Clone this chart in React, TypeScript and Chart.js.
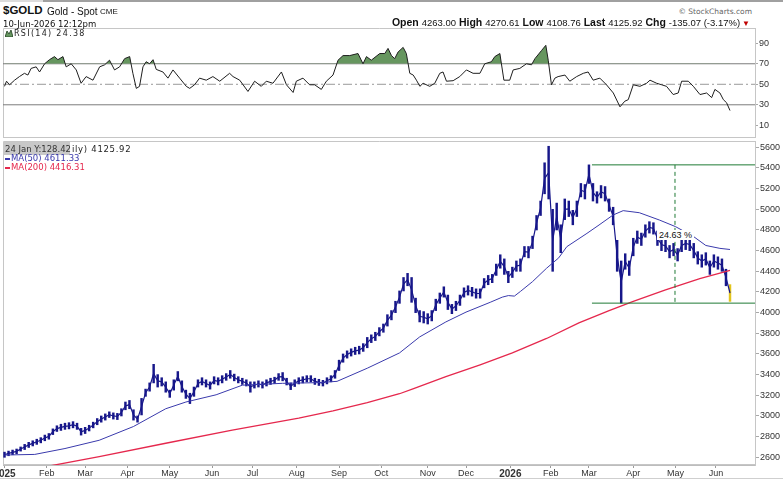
import React, { useEffect, useRef } from "react";
import { Chart, registerables } from "chart.js";

Chart.register(...registerables);

// ---------------- data ----------------
// x values are trading-day indices counted from 2 Jan 2025
const monthTickDays = [0, 21, 40, 61, 82, 103, 123, 145, 166, 187, 210, 229, 251, 271, 290, 312, 333, 353];
const monthTickLabels = ["2025", "Feb", "Mar", "Apr", "May", "Jun", "Jul", "Aug", "Sep", "Oct", "Nov", "Dec", "2026", "Feb", "Mar", "Apr", "May", "Jun"];
const yearTickLabels = ["2025", "2026"];

const priceTicks = [2600, 2800, 3000, 3200, 3400, 3600, 3800, 4000, 4200, 4400, 4600, 4800, 5000, 5200, 5400, 5600];
const rsiTicks = [10, 30, 50, 70, 90];
const rsiLevels = [70, 50, 30];

// one bar every 2 trading days: [low, high]
const barStepDays = 2;
const priceRanges: [number, number][] = [
  [2600, 2650], [2615, 2660], [2625, 2670], [2635, 2680], [2660, 2700], [2675, 2725], [2695, 2745], [2710, 2760],
  [2725, 2775], [2740, 2790], [2760, 2815], [2775, 2830], [2820, 2875], [2850, 2905], [2860, 2920], [2870, 2930],
  [2875, 2935], [2885, 2945], [2870, 2930], [2815, 2880], [2830, 2890], [2855, 2910], [2885, 2940], [2915, 2975],
  [2940, 3000], [2960, 3020], [2985, 3040], [2970, 3030], [2965, 3025], [3000, 3070], [3060, 3135], [3070, 3150],
  [2960, 3060], [2940, 3000], [3010, 3170], [3190, 3260], [3240, 3320], [3320, 3500], [3280, 3400], [3290, 3370],
  [3230, 3330], [3180, 3250], [3250, 3350], [3340, 3430], [3230, 3340], [3170, 3250], [3120, 3220], [3190, 3280],
  [3280, 3350], [3300, 3370], [3280, 3350], [3260, 3330], [3310, 3380], [3300, 3370], [3320, 3390], [3345, 3410],
  [3365, 3440], [3340, 3405], [3320, 3380], [3305, 3365], [3290, 3350], [3230, 3330], [3270, 3330], [3280, 3340],
  [3270, 3330], [3290, 3350], [3305, 3365], [3315, 3375], [3345, 3410], [3340, 3420], [3300, 3365], [3255, 3320],
  [3285, 3350], [3310, 3370], [3320, 3380], [3330, 3390], [3330, 3390], [3305, 3365], [3295, 3355], [3290, 3345],
  [3310, 3370], [3330, 3390], [3365, 3440], [3440, 3540], [3520, 3600], [3560, 3630], [3580, 3650], [3595, 3665],
  [3600, 3675], [3625, 3700], [3660, 3760], [3710, 3785], [3730, 3810], [3775, 3855], [3810, 3890], [3870, 3980],
  [3930, 4020], [4000, 4110], [4090, 4210], [4210, 4340], [4260, 4380], [4100, 4340], [4000, 4140], [3910, 4020],
  [3900, 4010], [3890, 3990], [3920, 4020], [4020, 4130], [4090, 4190], [4150, 4250], [4030, 4170], [3990, 4080],
  [4020, 4110], [4070, 4170], [4150, 4240], [4170, 4260], [4160, 4245], [4140, 4230], [4140, 4230], [4240, 4330],
  [4270, 4360], [4290, 4370], [4360, 4470], [4430, 4560], [4370, 4520], [4290, 4400], [4340, 4440], [4400, 4500],
  [4400, 4520], [4540, 4640], [4530, 4640], [4620, 4740], [4800, 4940], [4940, 5080], [5150, 5450], [5100, 5610],
  [4400, 5000], [4800, 5060], [4580, 4850], [4900, 5100], [4930, 5080], [4850, 4990], [4930, 5080], [5120, 5250],
  [5100, 5240], [5250, 5430], [5080, 5250], [5060, 5170], [5110, 5230], [5080, 5220], [4980, 5100], [4850, 5020],
  [4400, 4700], [4092, 4500], [4420, 4570], [4360, 4500], [4550, 4720], [4670, 4790], [4650, 4770], [4730, 4850],
  [4770, 4880], [4760, 4870], [4650, 4790], [4600, 4720], [4590, 4700], [4530, 4650], [4550, 4670], [4500, 4620],
  [4590, 4710], [4610, 4730], [4600, 4720], [4530, 4670], [4470, 4590], [4440, 4560], [4460, 4580], [4370, 4500],
  [4440, 4560], [4420, 4540], [4400, 4520], [4260, 4420], [4109, 4271],
];

// [trading day, value]
const ma50Points: [number, number][] = [
  [0, 2622], [15, 2628], [30, 2685], [47, 2765], [64, 2898], [80, 3070], [90, 3135], [105, 3205], [118, 3298],
  [138, 3316], [155, 3322], [165, 3335], [180, 3462], [196, 3610], [206, 3765], [219, 3910], [229, 4005],
  [241, 4100], [247, 4150], [250, 4165], [253, 4160], [256, 4205], [262, 4300], [269, 4430], [275, 4530],
  [279, 4638], [289, 4767], [295, 4848], [302, 4945], [307, 4987], [315, 4967], [325, 4896], [333, 4832],
  [342, 4735], [348, 4650], [355, 4622], [360, 4611],
];
const ma200Points: [number, number][] = [
  [22, 2515], [47, 2606], [80, 2736], [113, 2864], [146, 2980], [163, 3050], [180, 3130], [196, 3215],
  [203, 3265], [219, 3380], [236, 3495], [252, 3610], [269, 3750], [285, 3900], [300, 4020], [312, 4110],
  [328, 4220], [345, 4330], [360, 4410],
];

const rsiPoints: [number, number][] = [
  [0, 48], [1, 53], [2.5, 49.5], [5, 54], [7.4, 57.5], [9.9, 60.7], [11.6, 59], [13.2, 65.5], [15.7, 67], [17.4, 62],
  [19.9, 70], [22.3, 74], [24.8, 77], [26.5, 74], [29, 77], [30.6, 67], [33.1, 70], [35.6, 64], [38, 51], [40.5, 57.5],
  [43.9, 54], [47.2, 67], [49.7, 69], [52.1, 73.5], [54.6, 64], [57.1, 67], [59.6, 75], [62.1, 77], [63.7, 60.7],
  [65.4, 46], [67, 48], [68.7, 67], [70.3, 72], [72, 70], [73.7, 74], [75.3, 64.5], [78.6, 62], [81.1, 56], [83.6, 64],
  [86.9, 56], [90.2, 48], [91.9, 46], [94.3, 49.5], [96.8, 56], [100.1, 54], [103.4, 57.5], [106.8, 53], [111.7, 60.7],
  [113.4, 57.5], [116.7, 54], [120.8, 43], [124.1, 53], [127.4, 48], [129.9, 53], [133.2, 51], [137.4, 62], [139.9, 49.5],
  [143.2, 42], [144.8, 53], [148.1, 56], [151.4, 49.5], [153.9, 49.5], [157.2, 45], [159.7, 53], [163, 59], [165.5, 73.5],
  [168, 78], [171.3, 78], [175.4, 80], [177.9, 70], [179.6, 77], [182, 73.5], [186.2, 80], [188.7, 80], [190.3, 85],
  [192, 78], [193.6, 75], [195.3, 81.5], [197.8, 86], [199.4, 80], [201.1, 60.7], [202.8, 59], [204.4, 54], [206.1, 48],
  [207.7, 51], [211, 48], [213.5, 51], [216, 60.7], [217.6, 62], [219.3, 53], [222.6, 53.5], [225.9, 57.5], [229.2, 64],
  [232.5, 60.7], [235.9, 60.7], [238.3, 70], [241.6, 72], [243.3, 77], [245.8, 80], [247.8, 54], [250.7, 54], [252.4, 64],
  [255.7, 65.5], [259, 70], [261.5, 69], [263.2, 75], [266.5, 83], [268.6, 88], [269.8, 73.5], [271.4, 49.5], [273.1, 56],
  [274.7, 57.5], [278.1, 59], [280.5, 53], [283.9, 57.5], [287.2, 60.7], [289.6, 62], [292.1, 54], [295.4, 56],
  [298.7, 49.5], [302.1, 41.5], [305.4, 28], [307.8, 33.5], [309.5, 35], [312, 49.5], [315.3, 48], [318.6, 51],
  [320.3, 54], [323.6, 51], [326.1, 49.5], [328.5, 48], [331.8, 40], [334.3, 41.5], [336, 53], [339.3, 53], [341.8, 48],
  [345.1, 40], [348.4, 41.5], [350.9, 37], [352.5, 45], [355, 41.5], [356.7, 35], [358.3, 32], [360, 24.38],
];

// drawn measurement (peak -> low)
const dropStartDay = 291.5;
const dropMeasureDay = 332.7;
const dropHigh = 5430;
const dropLow = 4092;
const dropLabel = "24.63 %";

const headerStats: [string, string][] = [
  ["Open", "4263.00"], ["High", "4270.61"], ["Low", "4108.76"], ["Last", "4125.92"], ["Chg", "-135.07 (-3.17%)"],
];

// ---------------- chart settings ----------------
const xMin = -0.75;
const xMax = 372.4;
const green = "#1f7a35";
const navy = "#17178a";
const sans = '"Liberation Sans", Arial, sans-serif';
const verd = '"DejaVu Sans", Verdana, sans-serif';

const panelFrame = {
  id: "panelFrame",
  beforeDatasetsDraw(chart: any) {
    const { ctx, chartArea: a } = chart;
    ctx.save();
    ctx.strokeStyle = "#c6c6c6";
    ctx.lineWidth = 1;
    ctx.beginPath();
    ctx.moveTo(a.left + 0.5, a.bottom);
    ctx.lineTo(a.left + 0.5, a.top + 0.5);
    ctx.lineTo(a.right, a.top + 0.5);
    ctx.moveTo(a.left, a.bottom - 0.5);
    ctx.lineTo(a.right, a.bottom - 0.5);
    ctx.stroke();
    ctx.restore();
  },
};

const toXY = (pts: [number, number][]) => pts.map(([x, y]) => ({ x, y }));

export default function App() {
  const rsiRef = useRef<HTMLCanvasElement>(null);
  const mainRef = useRef<HTMLCanvasElement>(null);

  useEffect(() => {
    Chart.defaults.font.family = sans;
    Chart.defaults.font.size = 9;
    Chart.defaults.color = "#333";

    const rsiChart = new Chart(rsiRef.current as HTMLCanvasElement, {
      type: "line",
      data: {
        datasets: [
          ...rsiLevels.map((lv) => ({
            data: [{ x: xMin, y: lv }, { x: xMax, y: lv }],
            borderColor: lv === 50 ? "#9a9a9a" : "#7c7c7c",
            borderWidth: 1,
            borderDash: lv === 50 ? [9, 3, 2, 3] : [],
            pointRadius: 0,
            fill: false,
            order: 2,
          })),
          {
            data: toXY(rsiPoints),
            borderColor: "#1e1e1e",
            borderWidth: 1,
            pointRadius: 0,
            tension: 0,
            fill: { target: { value: 70 }, above: "#66965f", below: "rgba(0,0,0,0)" },
            order: 1,
          },
        ] as any,
      },
      options: {
        animation: false,
        responsive: false,
        events: [],
        layout: { padding: { left: 3, right: 0, top: 0, bottom: 0 } },
        plugins: { legend: { display: false }, tooltip: { enabled: false } },
        scales: {
          x: { type: "linear", display: false, min: xMin, max: xMax },
          y: {
            position: "right",
            min: -2.4,
            max: 104.9,
            afterBuildTicks: (s: any) => {
              s.ticks = rsiTicks.map((v) => ({ value: v }));
            },
            afterFit: (s: any) => {
              s.width = 28;
              s.paddingTop = 0;
              s.paddingBottom = 0;
            },
            grid: { drawOnChartArea: false, drawTicks: true, tickLength: 3, color: "#a8a8a8" },
            border: { display: true, color: "#c6c6c6" },
            ticks: { padding: 1, color: "#333", font: { size: 9 }, callback: (v: any) => String(v) },
          },
        } as any,
      },
      plugins: [panelFrame],
    });

    const mainChart = new Chart(mainRef.current as HTMLCanvasElement, {
      type: "bar",
      data: {
        datasets: [
          {
            type: "line",
            data: toXY(ma200Points),
            borderColor: "#e5284d",
            borderWidth: 1.3,
            pointRadius: 0,
            order: 1,
          },
          {
            type: "line",
            data: toXY(ma50Points),
            borderColor: "#3a3aac",
            borderWidth: 1,
            pointRadius: 0,
            order: 1,
          },
          {
            // thin link through the middle of each high-low bar
            type: "line",
            data: priceRanges.map(([lo, hi], k) => ({ x: k * barStepDays, y: (lo + hi) / 2 })),
            borderColor: navy,
            borderWidth: 1.2,
            pointRadius: 0,
            order: 2,
          },
          {
            type: "bar",
            data: priceRanges.map(([lo, hi], k) => ({ x: k * barStepDays, y: [lo, hi] })),
            backgroundColor: priceRanges.map((_, k) => (k === priceRanges.length - 1 ? "#e2c41c" : navy)),
            borderWidth: 0,
            barThickness: 1.8,
            order: 2,
          },
          {
            type: "line",
            data: [{ x: dropStartDay, y: dropHigh }, { x: xMax, y: dropHigh }],
            borderColor: green,
            borderWidth: 1,
            pointRadius: 0,
            order: 0,
          },
          {
            type: "line",
            data: [{ x: dropStartDay, y: dropLow }, { x: xMax, y: dropLow }],
            borderColor: green,
            borderWidth: 1,
            pointRadius: 0,
            order: 0,
          },
          {
            type: "line",
            data: [{ x: dropMeasureDay, y: dropHigh }, { x: dropMeasureDay, y: dropLow }],
            borderColor: green,
            borderWidth: 1,
            borderDash: [4, 3],
            pointRadius: 0,
            order: 0,
          },
        ] as any,
      },
      options: {
        animation: false,
        responsive: false,
        events: [],
        layout: { padding: { left: 3, right: 0, top: 0, bottom: 0 } },
        plugins: { legend: { display: false }, tooltip: { enabled: false } },
        scales: {
          x: {
            type: "linear",
            min: xMin,
            max: xMax,
            offset: false,
            afterBuildTicks: (s: any) => {
              s.ticks = monthTickDays.map((v) => ({ value: v }));
            },
            afterFit: (s: any) => {
              s.height = 14;
              s.paddingLeft = 0;
              s.paddingRight = 0;
            },
            grid: { offset: false, drawOnChartArea: false, drawTicks: true, tickLength: 3, color: "#9a9a9a" },
            border: { display: true, color: "#bdbdbd" },
            ticks: {
              autoSkip: false,
              maxRotation: 0,
              minRotation: 0,
              padding: 0,
              color: "#333",
              callback: (_v: any, i: number) => monthTickLabels[i],
              font: (c: any) =>
                yearTickLabels.includes(monthTickLabels[c.index])
                  ? { size: 10, weight: "bold" }
                  : { size: 9 },
            },
          },
          y: {
            position: "right",
            min: 2525.5,
            max: 5661,
            afterBuildTicks: (s: any) => {
              s.ticks = priceTicks.map((v) => ({ value: v }));
            },
            afterFit: (s: any) => {
              s.width = 28;
              s.paddingTop = 0;
              s.paddingBottom = 0;
            },
            grid: { drawOnChartArea: false, drawTicks: true, tickLength: 4, color: "#a8a8a8" },
            border: { display: true, color: "#c6c6c6" },
            ticks: { padding: 1, color: "#333", font: { size: 9 }, callback: (v: any) => String(v) },
          },
        } as any,
      },
      plugins: [panelFrame],
    });

    return () => {
      rsiChart.destroy();
      mainChart.destroy();
    };
  }, []);

  const abs = (o: React.CSSProperties): React.CSSProperties => ({ position: "absolute", whiteSpace: "nowrap", ...o });

  return (
    <div style={{ position: "absolute", left: 0, top: 0, width: 783, height: 479, background: "#fff", overflow: "hidden", fontFamily: sans, color: "#111" }}>
      {/* top frame strip */}
      <div style={abs({ left: 0, top: 0, width: 43, height: 2, background: "#dcdcdc" })} />
      <div style={abs({ left: 43, top: 0, width: 740, height: 2, background: "#a0a0a0" })} />

      <canvas ref={rsiRef} width={783} height={110} style={{ position: "absolute", left: 0, top: 28, width: 783, height: 110 }} />
      <canvas ref={mainRef} width={783} height={338} style={{ position: "absolute", left: 0, top: 141, width: 783, height: 338 }} />

      {/* header */}
      <div style={abs({ left: 3, top: 5.3, fontSize: 11.5, lineHeight: 1, fontWeight: "bold" })}>$GOLD</div>
      <div style={abs({ left: 47, top: 6.5, fontSize: 10, lineHeight: 1 })}>Gold - Spot</div>
      <div style={abs({ left: 100, top: 8.2, fontSize: 8, lineHeight: 1 })}>CME</div>
      <div style={abs({ left: 3, top: 19.5, fontSize: 8.5, lineHeight: 1, fontFamily: verd })}>10-Jun-2026 12:12pm</div>
      <div style={abs({ right: 31, top: 7.7, fontSize: 7.5, lineHeight: 1, fontFamily: verd, color: "#666" })}>© StockCharts.com</div>
      <div style={abs({ right: 33, top: 16.4, fontSize: 10.5, lineHeight: "12px" })}>
        {headerStats.map(([k, v], i) => (
          <span key={k}>
            {i > 0 ? " " : ""}
            <b>{k}</b> <span style={{ fontSize: 9.5 }}>{v}</span>
          </span>
        ))}
        <span style={{ fontSize: 8, color: "#c00000", marginLeft: 2 }}>▼</span>
      </div>

      {/* RSI legend */}
      <svg style={{ position: "absolute", left: 5, top: 30 }} width={8} height={7} viewBox="0 0 8 7">
        <polygon points="0,7 2,1 4,4 6,0 8,7" fill="#66965f" stroke="#1e3d1e" strokeWidth={0.8} />
      </svg>
      <div style={abs({ left: 14, top: 29.5, fontSize: 8, lineHeight: 1, fontFamily: verd, letterSpacing: 1.3, color: "#222" })}>RSI(14) 24.38</div>

      {/* price legend */}
      <div style={abs({ left: 3, top: 142, width: 67, height: 13, background: "#c8c8c8" })} />
      <div style={abs({ left: 5, top: 145, fontSize: 8.5, lineHeight: 1, fontFamily: verd, color: "#333" })}>24 Jan Y:128.42</div>
      <div style={abs({ left: 72, top: 145, fontSize: 8.5, lineHeight: 1, fontFamily: verd, letterSpacing: 0.7, color: "#222" })}>ily) 4125.92</div>
      <div style={abs({ left: 5, top: 158, width: 5, height: 2, background: "#3a3aac" })} />
      <div style={abs({ left: 11, top: 154, fontSize: 8.5, lineHeight: 1, fontFamily: verd, color: "#3a3aac" })}>MA(50) 4611.33</div>
      <div style={abs({ left: 5, top: 167, width: 5, height: 2, background: "#e5284d" })} />
      <div style={abs({ left: 11, top: 163, fontSize: 8.5, lineHeight: 1, fontFamily: verd, color: "#e5284d" })}>MA(200) 4416.31</div>

      {/* measurement label */}
      <div style={abs({ left: 657, top: 230, fontSize: 9, lineHeight: "10px", background: "#fff", padding: "0 2px", color: "#111" })}>{dropLabel}</div>

      <div style={abs({ left: 0, top: 478, width: 783, height: 1, background: "#cfcfcf" })} />
    </div>
  );
}
